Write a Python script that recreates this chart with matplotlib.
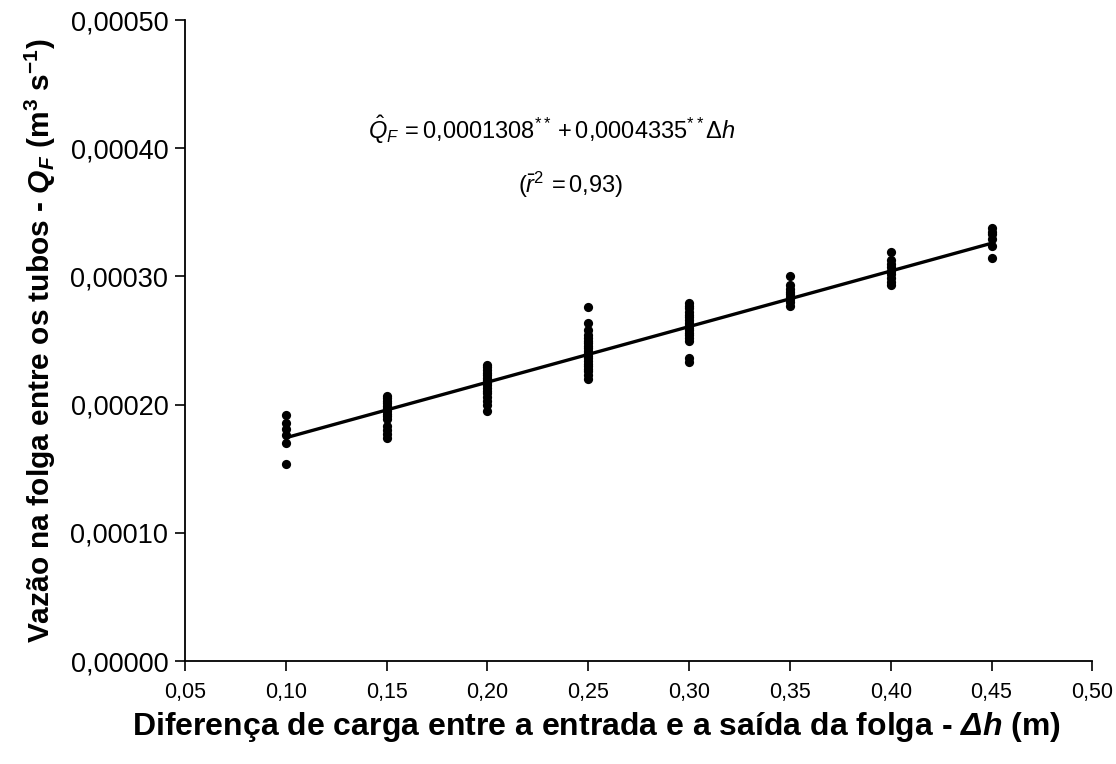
import matplotlib
matplotlib.use("Agg")
import matplotlib.pyplot as plt
import numpy as np

plt.rcParams['font.family'] = ['Liberation Sans', 'DejaVu Sans']
plt.rcParams['mathtext.fontset'] = 'custom'
plt.rcParams['mathtext.rm'] = 'Liberation Sans'
plt.rcParams['mathtext.it'] = 'Liberation Sans:italic'
plt.rcParams['mathtext.bf'] = 'Liberation Sans:bold'
plt.rcParams['mathtext.bfit'] = 'Liberation Sans:bold:italic'

# Observed data (delta h in m, flow in m3/s)
dh_010 = [0.000192, 0.000186, 0.000181, 0.000176, 0.000170, 0.000154]
dh_015 = [0.000207, 0.000205, 0.000203, 0.000201, 0.000199, 0.000197, 0.000195,
          0.000193, 0.000191, 0.000189, 0.000183, 0.000180, 0.000177, 0.000174]
dh_020 = [0.000231, 0.000229, 0.000227, 0.000225, 0.000223, 0.000221, 0.000219,
          0.000217, 0.000215, 0.000213, 0.000211, 0.000209, 0.000206, 0.000203,
          0.000200, 0.000195]
dh_025 = [0.000276, 0.000264, 0.000258, 0.000254, 0.000252, 0.000250, 0.000248,
          0.000246, 0.000244, 0.000242, 0.000240, 0.000238, 0.000236, 0.000234,
          0.000232, 0.000230, 0.000228, 0.000226, 0.000223, 0.000220]
dh_030 = [0.000279, 0.000277, 0.000275, 0.000272, 0.000270, 0.000268, 0.000266,
          0.000264, 0.000262, 0.000260, 0.000258, 0.000256, 0.000254, 0.000252,
          0.000250, 0.000236, 0.000233]
dh_035 = [0.000300, 0.000293, 0.000290, 0.000288, 0.000286, 0.000284, 0.000282,
          0.000280, 0.000277]
dh_040 = [0.000319, 0.000313, 0.000310, 0.000307, 0.000304, 0.000302, 0.000299,
          0.000296, 0.000293]
dh_045 = [0.000338, 0.000335, 0.000333, 0.000329, 0.000324, 0.000314]

levels = [0.10, 0.15, 0.20, 0.25, 0.30, 0.35, 0.40, 0.45]
groups = [dh_010, dh_015, dh_020, dh_025, dh_030, dh_035, dh_040, dh_045]

# Regression coefficients (from the chart's equation)
b0 = 0.0001308
b1 = 0.0004335

x_ticks = [0.05, 0.10, 0.15, 0.20, 0.25, 0.30, 0.35, 0.40, 0.45, 0.50]
y_ticks = [0.0, 0.0001, 0.0002, 0.0003, 0.0004, 0.0005]

fig = plt.figure(figsize=(11.16, 7.64), dpi=100)
ax = fig.add_axes([0.1658, 0.1348, 0.8130, 0.8390])

xs = np.concatenate([[lv] * len(g) for lv, g in zip(levels, groups)])
ys = np.concatenate(groups)
ax.scatter(xs, ys, s=44, color='black', zorder=3, linewidths=0)

xl = np.array([levels[0], levels[-1]])
ax.plot(xl, b0 + b1 * xl, color='black', lw=2.4, zorder=2)

ax.set_xlim(0.05, 0.50)
ax.set_ylim(0.0, 0.0005)
ax.set_xticks(x_ticks)
ax.set_yticks(y_ticks)
ax.set_xticklabels([f"{v:.2f}".replace('.', ',') for v in x_ticks], fontsize=15.5)
ax.set_yticklabels([f"{v:.5f}".replace('.', ',') for v in y_ticks], fontsize=19.5)
ax.tick_params(direction='out', length=7, width=1.2)
ax.tick_params(axis='x', pad=8)
ax.tick_params(axis='y', pad=5)
for s in ['top', 'right']:
    ax.spines[s].set_visible(False)
for s in ['left', 'bottom']:
    ax.spines[s].set_linewidth(1.3)

ax.set_xlabel(r"Diferença de carga entre a entrada e a saída da folga - $\mathbfit{\Delta h}$ (m)",
              fontsize=23, fontweight='bold')
ax.xaxis.set_label_coords(0.454, -0.103, transform=ax.transAxes)
ax.xaxis.label.set_va('center')
ax.set_ylabel(r"Vazão na folga entre os tubos - $\mathbfit{Q_F}$ (m$^{\mathbf{3}}$ s$^{\mathbf{-1}}$)",
              fontsize=21.5, fontweight='bold', labelpad=9)

ax.text(0.232, 0.000414, r"$\hat{Q}_F\,=0{,}0001308^{**}+0{,}0004335^{**}\Delta h$",
        fontsize=17, ha='center', va='center')
ax.text(0.241, 0.000371, r"$(\bar{r}^2\,=0{,}93)$", fontsize=17, ha='center', va='center')

fig.savefig("out.png", dpi=100)
